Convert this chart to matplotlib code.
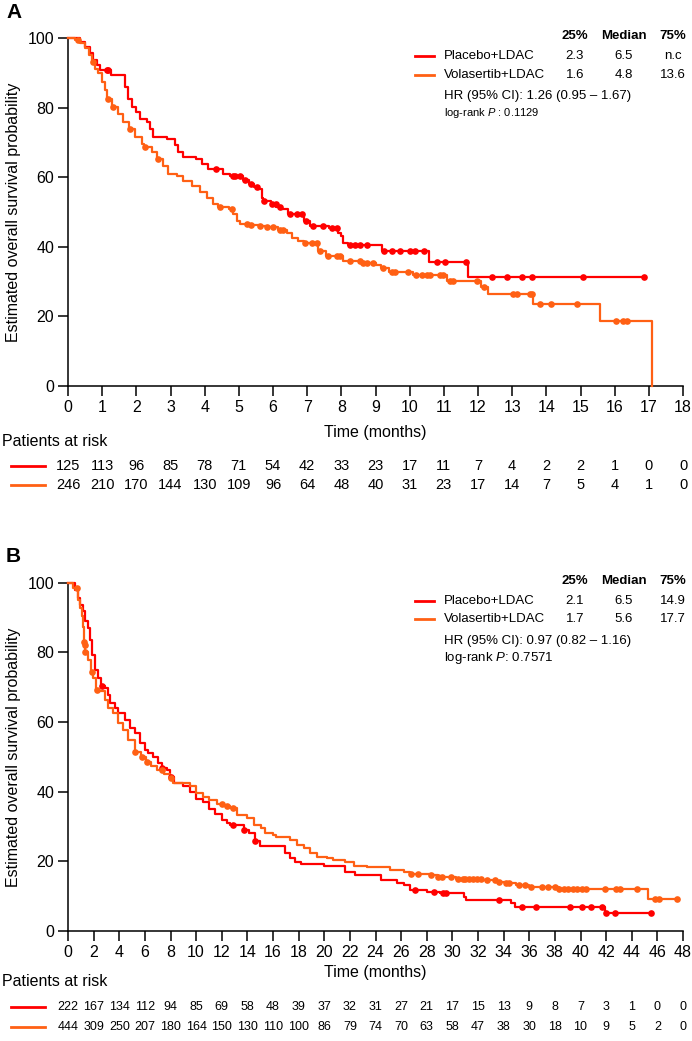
import numpy as np
import matplotlib
matplotlib.use("Agg")
import matplotlib.pyplot as plt
from matplotlib.lines import Line2D
from matplotlib.transforms import blended_transform_factory

plt.rcParams['font.family'] = ['Liberation Sans', 'DejaVu Sans']
plt.rcParams['mathtext.fontset'] = 'custom'
plt.rcParams['mathtext.rm'] = 'Liberation Sans'
plt.rcParams['mathtext.it'] = 'Liberation Sans:italic'

RED = '#ff0000'
ORANGE = '#ff6014'

# ---- panel A : step knots (time in months, survival %) ----
a_pla_t = [0, 0.35, 0.5, 0.64, 0.74, 0.84, 0.94, 1.25, 1.57, 1.67, 1.76, 1.86, 2.0, 2.1, 2.3,
           2.4, 2.5, 2.89, 3.13, 3.23, 3.37, 3.76, 3.91, 4.1, 4.55, 4.74, 5.13, 5.3, 5.45,
           5.57, 5.67, 5.72, 5.95, 6.1, 6.25, 6.45, 6.9, 7.08, 7.65, 7.9, 8.0, 8.06, 8.2,
           9.18, 10.56, 11.7, 16.86]
a_pla_s = [100, 99, 97.6, 95.7, 93.7, 92.3, 90.8, 89.5, 89.5, 86, 82.6, 80.2, 78.8, 76.9, 75.9,
           74, 71.6, 71.1, 69.2, 67.2, 65.8, 65.3, 63.9, 62.4, 61, 60.5, 59.3, 58.1, 57.2,
           56.6, 54.2, 53.3, 52.3, 51.5, 50.9, 49.4, 47.5, 46.0, 45.3, 44.1, 43.2, 41.2, 40.6,
           38.8, 35.8, 31.3, 31.3]
a_pla_cens = [1.13, 1.18, 4.33, 4.83, 4.9, 5.03, 5.18, 5.37, 5.52, 5.74, 5.96, 6.08, 6.2, 6.5,
              6.69, 6.84, 6.98, 7.17, 7.46, 7.72, 7.86, 8.25, 8.4, 8.55, 8.74, 9.25, 9.47,
              9.72, 10.0, 10.16, 10.42, 10.8, 11.03, 11.65, 12.4, 12.85, 13.3, 13.58, 15.07,
              16.86]

a_vol_t = [0, 0.2, 0.35, 0.5, 0.6, 0.69, 0.79, 0.89, 0.99, 1.08, 1.15, 1.3, 1.47, 1.62, 1.78,
           1.96, 2.16, 2.22, 2.45, 2.6, 2.79, 2.94, 3.18, 3.37, 3.62, 3.86, 4.06, 4.25, 4.4,
           4.7, 4.84, 4.94, 5.03, 5.3, 5.6, 5.8, 6.15, 6.3, 6.4, 6.55, 6.74, 6.9, 7.33, 7.55,
           8.06, 8.6, 9.0, 9.17, 9.4, 10.1, 11.1, 12.1, 12.3, 13.6, 15.57, 17.08]
a_vol_s = [100, 99.5, 98.6, 97.1, 95.2, 93.3, 91.3, 89.9, 87.5, 85.1, 82.6, 80.2, 78.3, 75.9, 74,
           71.6, 69.7, 68.7, 67.2, 65.3, 63.4, 61, 60.5, 59.1, 57.6, 55.7, 54.2, 52.3, 51.4,
           50.9, 49.4, 47.5, 46.5, 46.2, 46.0, 45.6, 45.0, 44.8, 44.1, 42.7, 41.7, 41.2, 38.8,
           37.3, 35.9, 35.3, 34.9, 34.0, 32.8, 31.9, 30.3, 28.5, 26.5, 23.6, 18.8, 0]
a_vol_cens = [0.3, 0.72, 1.18, 1.33, 1.81, 2.25, 2.64, 4.45, 4.79, 5.23, 5.37, 5.62, 5.81, 6.01,
              6.2, 6.3, 6.94, 7.13, 7.28, 7.37, 7.62, 7.86, 7.96, 8.26, 8.55, 8.64, 8.74, 8.93,
              9.22, 9.47, 9.57, 9.94, 10.2, 10.35, 10.5, 10.59, 10.89, 10.98, 11.18, 11.28,
              11.96, 12.17, 13.03, 13.13, 13.52, 13.57, 13.8, 14.15, 14.9, 16.03, 16.25, 16.35]

a_risk_t = list(range(0, 19))
a_risk_pla = [125, 113, 96, 85, 78, 71, 54, 42, 33, 23, 17, 11, 7, 4, 2, 2, 1, 0, 0]
a_risk_vol = [246, 210, 170, 144, 130, 109, 96, 64, 48, 40, 31, 23, 17, 14, 7, 5, 4, 1, 0]

# ---- panel B ----
b_pla_t = [0, 0.55, 0.81, 0.94, 1.2, 1.33, 1.59, 1.72, 1.85, 2.1, 2.37, 2.6, 2.9, 3.15, 3.28,
           3.67, 3.93, 4.45, 4.84, 5.23, 5.62, 6.0, 6.27, 6.66, 7.05, 7.3, 7.7, 7.96, 8.3, 9.0,
           9.5, 10.0, 10.5, 11.0, 11.5, 12.0, 12.4, 12.65, 13.7, 14.1, 14.6, 15.0, 16.95,
           17.3, 17.7, 18.2, 20.0, 21.6, 22.4, 24.4, 25.7, 26.2, 26.7, 28.0, 29.0, 30.9, 31.1,
           34.6, 34.9, 41.9, 45.5]
b_pla_s = [100, 98, 95.6, 93.7, 91.8, 88.9, 87.0, 83.6, 79.3, 75, 72.6, 70.2, 69.7, 67.8, 65.4,
           64.0, 62.6, 60.6, 58.2, 56.8, 53.9, 52.0, 51.1, 50.1, 48.2, 46.8, 46.3, 44.3, 42.5,
           41.5, 40, 38, 37, 35, 33.5, 32, 31, 30.5, 29.0, 28.1, 25.9, 24.5, 22.3, 20.9, 19.9,
           19.3, 18.8, 16.8, 16.1, 14.7, 13.7, 13.2, 11.8, 11.3, 11.0, 9.8, 8.9, 8.0, 7.0,
           5.3, 5.3]
b_pla_cens = [2.63, 7.31, 8.0, 12.9, 13.7, 14.6, 27.1, 28.6, 29.3, 29.5, 33.6, 35.4, 36.5,
              39.2, 40.1, 40.8, 41.7, 42.0, 42.7, 45.5]

b_vol_t = [0, 0.42, 0.75, 0.81, 0.94, 1.07, 1.2, 1.25, 1.3, 1.35, 1.59, 1.8, 1.98, 2.2, 2.4,
           2.89, 3.15, 3.54, 3.93, 4.32, 4.71, 5.2, 5.7, 6.1, 6.5, 6.92, 7.5, 7.96, 8.2, 9.5,
           10.0, 10.5, 11.0, 11.6, 12.2, 12.65, 13.2, 13.95, 14.5, 15.1, 15.4, 16.0, 16.2,
           17.3, 17.85, 18.4, 18.9, 19.4, 20.2, 20.7, 21.6, 22.3, 23.3, 24.7, 25.1, 26.2,
           26.7, 28.3, 28.9, 30.3, 32.4, 33.5, 34.1, 35.0, 36.0, 38.3, 45.3, 47.5]
b_vol_s = [100, 98.5, 97, 95.1, 92.7, 90.3, 87.4, 83.1, 82, 80, 77.9, 74.5, 72.6, 69.3, 68.8,
           66.4, 64.0, 62.6, 59.7, 57.8, 54.9, 51.5, 50.1, 48.6, 47.5, 46.3, 45, 43.9, 42.5,
           41.5, 39.5, 38.5, 37.5, 36.5, 36, 35.3, 33.3, 32.4, 30.5, 29.5, 28.1, 27.6, 26.9,
           26.1, 24.7, 23.8, 22.3, 21.3, 20.9, 20.4, 19.9, 18.8, 18.5, 18.3, 17.5, 17.0, 16.4,
           16.1, 15.4, 14.9, 14.6, 14.2, 13.7, 13.2, 12.7, 12.0, 9.1, 9.1]
b_vol_cens = [0.68, 1.25, 1.3, 1.35, 1.85, 2.24, 5.23, 5.75, 6.14, 7.3, 8.0, 12.0, 12.4, 12.9,
              26.8, 27.3, 28.3, 28.9, 29.2, 29.9, 30.4, 30.8, 31.0, 31.3, 31.6, 31.9, 32.2,
              32.7, 33.3, 33.6, 34.2, 34.4, 35.2, 35.7, 36.1, 37.0, 37.5, 38.0, 38.3, 38.7,
              39.0, 39.4, 39.7, 40.1, 40.4, 41.9, 42.8, 43.1, 44.4, 45.8, 46.1, 47.5]

b_risk_t = list(range(0, 49, 2))
b_risk_pla = [222, 167, 134, 112, 94, 85, 69, 58, 48, 39, 37, 32, 31, 27, 21, 17, 15, 13, 9, 8,
              7, 3, 1, 0, 0]
b_risk_vol = [444, 309, 250, 207, 180, 164, 150, 130, 110, 100, 86, 79, 74, 70, 63, 58, 47, 38,
              30, 18, 10, 9, 5, 2, 0]

groups = ['Placebo+LDAC', 'Volasertib+LDAC']
a_quart = [['2.3', '6.5', 'n.c'], ['1.6', '4.8', '13.6']]
b_quart = [['2.1', '6.5', '14.9'], ['1.7', '5.6', '17.7']]
a_hr = 'HR (95% CI): 1.26 (0.95 \u2013 1.67)'
b_hr = 'HR (95% CI): 0.97 (0.82 \u2013 1.16)'
a_p = r'log-rank $P$ : 0.1129'
b_p = r'log-rank $P$: 0.7571'

W, H = 692, 1041
fig = plt.figure(figsize=(W / 100, H / 100), dpi=100)


def fx(px):
    return px / W


def fy(py):
    return 1 - py / H


def km(ax, t, s, cens, color):
    t = np.asarray(t)
    s = np.asarray(s)
    ax.step(t, s, where='post', color=color, lw=1.6, clip_on=False, zorder=3)
    idx = np.searchsorted(t, cens, side='right') - 1
    ax.plot(cens, s[idx], 'o', color=color, ms=4.8, mew=0, clip_on=False, zorder=4)


def panel(top, bottom, xmax, xstep, letter, data, risk, quart, hr, ptxt, psize, risk_font,
          text_y):
    ax = fig.add_axes([fx(68), fy(bottom), (683 - 68) / W, (bottom - top) / H])
    for (t, s, c), col in zip(data, [RED, ORANGE]):
        km(ax, t, s, c, col)
    ax.set_xlim(0, xmax)
    ax.set_ylim(0, 100)
    ax.set_xticks(range(0, xmax + 1, xstep))
    ax.set_yticks(range(0, 101, 20))
    for sp in ['top', 'right']:
        ax.spines[sp].set_visible(False)
    for sp in ['left', 'bottom']:
        ax.spines[sp].set_linewidth(1.1)
    ax.tick_params(direction='out', length=7, width=1.1, labelsize=11.5, pad=3)

    time_y, par_y, row1_y, row2_y = text_y
    fig.text(fx(6), fy(top - 26), letter, fontsize=15, fontweight='bold', va='center')
    fig.text(fx(14), fy((top + bottom) / 2), 'Estimated overall survival probability',
             rotation=90, ha='center', va='center', fontsize=11.5)
    fig.text(fx(375), fy(time_y), 'Time (months)', ha='center', va='center', fontsize=11.5)
    fig.text(fx(2), fy(par_y), 'Patients at risk', ha='left', va='center', fontsize=11.5)

    tr = blended_transform_factory(ax.transData, fig.transFigure)
    rt, rp, rv = risk
    for vals, col, ry in zip([rp, rv], [RED, ORANGE], [row1_y, row2_y]):
        fig.add_artist(Line2D([fx(11), fx(45)], [fy(ry), fy(ry)], color=col, lw=2))
        for t, n in zip(rt, vals):
            ax.text(t, fy(ry), str(n), transform=tr, ha='center', va='center',
                    fontsize=risk_font, clip_on=False)

    # legend block
    hy = top - 2
    cols_x = [575, 624, 673]
    for x, h in zip(cols_x, ['25%', 'Median', '75%']):
        fig.text(fx(x), fy(hy), h, ha='center', va='center', fontsize=9.5, fontweight='bold')
    for i, (g, col) in enumerate(zip(groups, [RED, ORANGE])):
        ry = hy + 20 + 18.5 * i
        fig.add_artist(Line2D([fx(415), fx(434)], [fy(ry), fy(ry)], color=col, lw=2))
        fig.text(fx(444), fy(ry), g, ha='left', va='center', fontsize=9.5)
        for x, v in zip(cols_x, quart[i]):
            fig.text(fx(x), fy(ry), v, ha='center', va='center', fontsize=9.5)
    fig.text(fx(444), fy(hy + 60), hr, ha='left', va='center', fontsize=9.5)
    fig.text(fx(444), fy(hy + 77), ptxt, ha='left', va='center', fontsize=psize)
    return ax


panel(38.3, 386, 18, 1, 'A',
      [(a_pla_t, a_pla_s, a_pla_cens), (a_vol_t, a_vol_s, a_vol_cens)],
      (a_risk_t, a_risk_pla, a_risk_vol), a_quart, a_hr, a_p, 8, 10.5,
      [432, 441, 466, 485])
panel(582.7, 931, 48, 2, 'B',
      [(b_pla_t, b_pla_s, b_pla_cens), (b_vol_t, b_vol_s, b_vol_cens)],
      (b_risk_t, b_risk_pla, b_risk_vol), b_quart, b_hr, b_p, 9.5, 9,
      [973, 982, 1007, 1027])

fig.savefig('out.png', dpi=100)
